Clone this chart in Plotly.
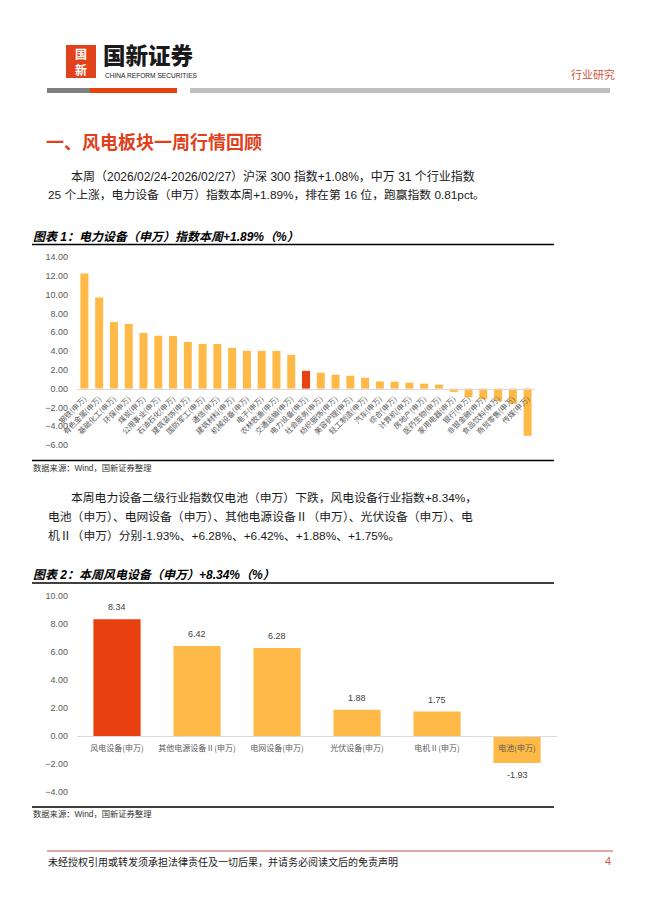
import plotly.graph_objects as go

# ---------------- data ----------------
c1_categories = ["钢铁(申万)", "有色金属(申万)", "基础化工(申万)", "环保(申万)", "煤炭(申万)",
                 "公用事业(申万)", "石油石化(申万)", "建筑装饰(申万)", "国防军工(申万)", "通信(申万)",
                 "建筑材料(申万)", "机械设备(申万)", "电子(申万)", "农林牧渔(申万)", "交通运输(申万)",
                 "电力设备(申万)", "社会服务(申万)", "纺织服饰(申万)", "美容护理(申万)", "轻工制造(申万)",
                 "汽车(申万)", "综合(申万)", "计算机(申万)", "房地产(申万)", "医药生物(申万)",
                 "家用电器(申万)", "银行(申万)", "非银金融(申万)", "食品饮料(申万)", "商贸零售(申万)",
                 "传媒(申万)"]
c1_values = [12.25, 9.70, 7.08, 6.87, 5.92, 5.62, 5.60, 4.96, 4.76, 4.75,
             4.33, 4.03, 4.02, 4.01, 3.59, 1.89, 1.69, 1.48, 1.37, 1.16,
             0.76, 0.74, 0.63, 0.53, 0.42, -0.35, -0.92, -1.13, -1.34, -1.62,
             -5.02]
c1_highlight = "电力设备(申万)"
c1_yrange = [-6, 14]
c1_yticks = [-6, -4, -2, 0, 2, 4, 6, 8, 10, 12, 14]

c2_categories = ["风电设备(申万)", "其他电源设备Ⅱ(申万)", "电网设备(申万)", "光伏设备(申万)",
                 "电机Ⅱ(申万)", "电池(申万)"]
c2_values = [8.34, 6.42, 6.28, 1.88, 1.75, -1.93]
c2_highlight = "风电设备(申万)"
c2_yrange = [-4, 10]
c2_yticks = [-4, -2, 0, 2, 4, 6, 8, 10]

# ---------------- page helpers ----------------
PAGE_W, PAGE_H = 662, 914
OFF = 8                      # default body margin of the page
FW, FH = PAGE_W - OFF, PAGE_H - OFF
ORANGE = "#FFB946"
RED = "#E8400F"
CJK = "Noto Sans CJK SC"
MIX = "Liberation Sans, Noto Sans CJK SC"


def px(x):
    return (x - OFF) / FW


def py(y):
    return 1 - (y - OFF) / FH


fig = go.Figure()

# chart 1
fig.add_trace(go.Bar(
    x=c1_categories, y=c1_values,
    marker_color=[RED if c == c1_highlight else ORANGE for c in c1_categories],
    marker_line_width=0, xaxis="x", yaxis="y", width=0.54, hoverinfo="x+y"))

# chart 2
fig.add_trace(go.Bar(
    x=c2_categories, y=c2_values,
    marker_color=[RED if c == c2_highlight else ORANGE for c in c2_categories],
    marker_line_width=0, xaxis="x2", yaxis="y2", width=0.59, hoverinfo="x+y"))


def zero_pos(dom, rng):
    return dom[0] + (0 - rng[0]) / (rng[1] - rng[0]) * (dom[1] - dom[0])


c1_xdom = [px(77), px(535)]
c1_ydom = [py(445), py(257)]
c2_xdom = [px(77), px(557)]
c2_ydom = [py(792), py(596)]

tickfont_y = dict(family="Liberation Sans", size=9, color="#595959")

fig.update_layout(
    width=FW, height=FH, margin=dict(l=0, r=0, t=0, b=0, pad=0, autoexpand=False),
    paper_bgcolor="white", plot_bgcolor="white", showlegend=False,
    xaxis=dict(domain=c1_xdom, anchor="free", position=zero_pos(c1_ydom, c1_yrange),
               automargin=False,
               showline=True, linecolor="#D9D9D9", linewidth=1, showgrid=False, zeroline=False,
               ticks="", tickangle=-45, tickmode="linear", dtick=1,
               tickfont=dict(family=CJK, size=7.5, color="#595959"), ticklabelstandoff=2,
               fixedrange=True),
    yaxis=dict(domain=c1_ydom, range=c1_yrange, tickvals=c1_yticks, tickformat=".2f",
               automargin=False,
               showgrid=False, zeroline=False, showline=False, ticks="",
               tickfont=tickfont_y, ticklabelstandoff=8, anchor="x", fixedrange=True),
    xaxis2=dict(domain=c2_xdom, anchor="free", position=zero_pos(c2_ydom, c2_yrange),
                automargin=False,
                showline=True, linecolor="#D9D9D9", linewidth=1, showgrid=False, zeroline=False,
                ticks="", tickangle=0,
                tickfont=dict(family=CJK, size=8, color="#595959"), ticklabelstandoff=4,
                fixedrange=True),
    yaxis2=dict(domain=c2_ydom, range=c2_yrange, tickvals=c2_yticks, tickformat=".2f",
                automargin=False,
                showgrid=False, zeroline=False, showline=False, ticks="",
                tickfont=tickfont_y, ticklabelstandoff=8, anchor="x2", fixedrange=True),
)

shapes = []
annos = []

# chart 2 value labels (placed through the chart's own axes)
for c, v in zip(c2_categories, c2_values):
    annos.append(dict(xref="x2", yref="y2", x=c, y=v, text=f"{v:.2f}", showarrow=False,
                      yshift=12 if v >= 0 else -12, yanchor="middle",
                      font=dict(family="Liberation Sans", size=9, color="#404040")))


def rect(x0, y0, x1, y1, color):
    shapes.append(dict(type="rect", xref="paper", yref="paper", x0=px(x0), x1=px(x1),
                       y0=py(y1), y1=py(y0), fillcolor=color, line_width=0, layer="below"))


def hline(x0, x1, y, color="#000000", width=1):
    shapes.append(dict(type="line", xref="paper", yref="paper", x0=px(x0), x1=px(x1),
                       y0=py(y), y1=py(y), line=dict(color=color, width=width)))


def text(x, y, t, size, color="#000000", family=MIX, xanchor="left", weight="normal",
         style="normal"):
    annos.append(dict(xref="paper", yref="paper", x=px(x), y=py(y), text=t, showarrow=False,
                      xanchor=xanchor, yanchor="middle",
                      font=dict(family=family, size=size, color=color, weight=weight,
                                style=style)))


# header / logo
rect(66, 45, 96, 78, "#E2421B")
text(81, 61.5, "国<br>新", 12, "white", CJK, "center", "bold")
text(101, 54, "国新证券", 22.5, "#1a1a1a", CJK, "left", 900)
text(103, 75.5, "CHINA REFORM SECURITIES", 6.6, "#1a1a1a",
     "Liberation Sans Narrow, Liberation Sans", "left")
text(617, 74, "行业研究", 11, "#D2553F", CJK, "right")
rect(47, 88, 90, 93, "#7F7F7F")
rect(90, 88, 177, 93, RED)
rect(190, 88, 610, 93, "#BFBFBF")

# section heading & paragraph 1
text(44, 141, "一、风电板块一周行情回顾", 18, "#E0401A", CJK, "left", "bold")
text(69, 176, "本周（2026/02/24-2026/02/27）沪深 300 指数+1.08%，中万 31 个行业指数", 12, "#1a1a1a")
text(46, 195, "25 个上涨，电力设备（申万）指数本周+1.89%，排在第 16 位，跑赢指数 0.81pct。", 11.8, "#1a1a1a")

# chart 1 title and source
text(31, 237, "图表 1：电力设备（申万）指数本周+1.89%（%）", 12, "#000000", MIX, "left", "bold", "italic")
hline(32, 554, 244.5, "#000000", 1.5)
hline(32, 554, 460.5, "#000000", 1.5)
text(31, 468, "数据来源：Wind，国新证券整理", 8.3, "#333333")

# paragraph 2
text(69, 498, "本周电力设备二级行业指数仅电池（申万）下跌，风电设备行业指数+8.34%，", 11.8, "#1a1a1a")
text(46, 517, "电池（申万）、电网设备（申万）、其他电源设备Ⅱ（申万）、光伏设备（申万）、电", 11.8, "#1a1a1a")
text(46, 536, "机Ⅱ（申万）分别-1.93%、+6.28%、+6.42%、+1.88%、+1.75%。", 11.8, "#1a1a1a")

# chart 2 title and source
text(31, 575, "图表 2：本周风电设备（申万）+8.34%（%）", 12, "#000000", MIX, "left", "bold", "italic")
hline(32, 554, 583, "#000000", 1.5)
hline(32, 554, 807, "#000000", 1.5)
text(31, 814, "数据来源：Wind，国新证券整理", 8.3, "#333333")

# footer
hline(47, 613, 851, "#C0504D", 1.2)
text(46, 861, "未经授权引用或转发须承担法律责任及一切后果，并请务必阅读文后的免责声明", 10, "#1a1a1a", CJK)
text(613, 861, "4", 11, "#D2553F", "Liberation Sans", "right")

fig.update_layout(shapes=shapes, annotations=annos)
fig.write_html("out.html")
